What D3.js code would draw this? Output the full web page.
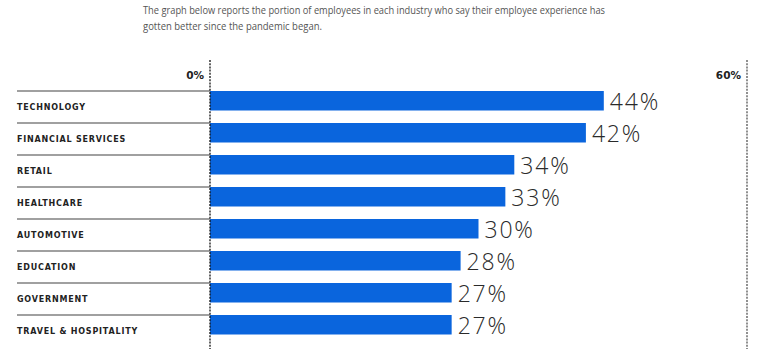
<!DOCTYPE html>
<html>
<head>
<meta charset="utf-8">
<script src="https://cdn.jsdelivr.net/npm/d3@7"></script>
<style>
  body { margin: 0; background: #fff; }
  svg { display: block; }
</style>
</head>
<body>
<svg id="chart" width="770" height="364"></svg>
<script>
const industries = ["TECHNOLOGY", "FINANCIAL SERVICES", "RETAIL", "HEALTHCARE",
  "AUTOMOTIVE", "EDUCATION", "GOVERNMENT", "TRAVEL & HOSPITALITY"];
const portions = [44, 42, 34, 33, 30, 28, 27, 27];
const axisTicks = [0, 60];
const subtitleLines = [
  "The graph below reports the portion of employees in each industry who say their employee experience has",
  "gotten better since the pandemic began."
];

const svg = d3.select("#chart");
const width = 770, height = 364;

let x = d3.scaleLinear().domain([0, 60]).range([210, 747]);
let y = d3.scaleBand().domain(industries).range([91, 91 + 32 * industries.length]);

// subtitle
svg.selectAll("text.sub")
  .data(subtitleLines)
  .enter()
  .append("text")
  .attr("class", "sub")
  .attr("x", 143)
  .attr("y", (d, i) => 14 + i * 16)
  .attr("font-family", "'Open Sans', sans-serif")
  .attr("font-size", 10.5)
  .attr("fill", "#555")
  .attr("textLength", (d, i) => (i == 0 ? 462 : 179))
  .attr("lengthAdjust", "spacingAndGlyphs")
  .text(d => d);

// row separators
svg.selectAll("line.sep")
  .data(industries)
  .enter()
  .append("line")
  .attr("class", "sep")
  .attr("x1", 17)
  .attr("x2", x(0))
  .attr("y1", d => y(d))
  .attr("y2", d => y(d))
  .attr("stroke", "#a0a0a0")
  .attr("stroke-width", 2);

// category labels
svg.selectAll("text.cat")
  .data(industries)
  .enter()
  .append("text")
  .attr("class", "cat")
  .attr("x", 17)
  .attr("y", d => y(d) + 18.5)
  .attr("font-family", "'DejaVu Sans', sans-serif")
  .attr("font-weight", "bold")
  .attr("font-size", 8)
  .attr("letter-spacing", 0.8)
  .attr("fill", "#222")
  .text(d => d);

// bars
svg.selectAll("rect.bar")
  .data(portions)
  .enter()
  .append("rect")
  .attr("class", "bar")
  .attr("x", x(0))
  .attr("y", (d, i) => y(industries[i]))
  .attr("width", d => x(d) - x(0))
  .attr("height", 19.5)
  .attr("fill", "#0a65dd");

// value labels
svg.selectAll("text.val")
  .data(portions)
  .enter()
  .append("text")
  .attr("class", "val")
  .attr("x", d => x(d) + 6)
  .attr("y", (d, i) => y(industries[i]) + 18.5)
  .attr("font-family", "'Open Sans', sans-serif")
  .attr("font-weight", 300)
  .attr("font-size", 23)
  .attr("letter-spacing", 1.8)
  .attr("fill", "#2a2a2a")
  .text(d => d + "%");

// tick lines (dotted)
let lineGenerator = d3.line();
axisTicks.forEach((t, i) => {
  svg.append("path")
    .attr("d", lineGenerator([[x(t), 60], [x(t), 349]]))
    .attr("fill", "none")
    .attr("stroke", i == 0 ? "#111" : "#555")
    .attr("stroke-width", 1.3)
    .attr("stroke-dasharray", "2,1.2");
  svg.append("text")
    .attr("x", x(t) - 6)
    .attr("y", 79)
    .attr("text-anchor", "end")
    .attr("font-family", "'DejaVu Sans', sans-serif")
    .attr("font-weight", "bold")
    .attr("font-size", 10.5)
    .attr("fill", "#222")
    .text(t + "%");
});
</script>
</body>
</html>
